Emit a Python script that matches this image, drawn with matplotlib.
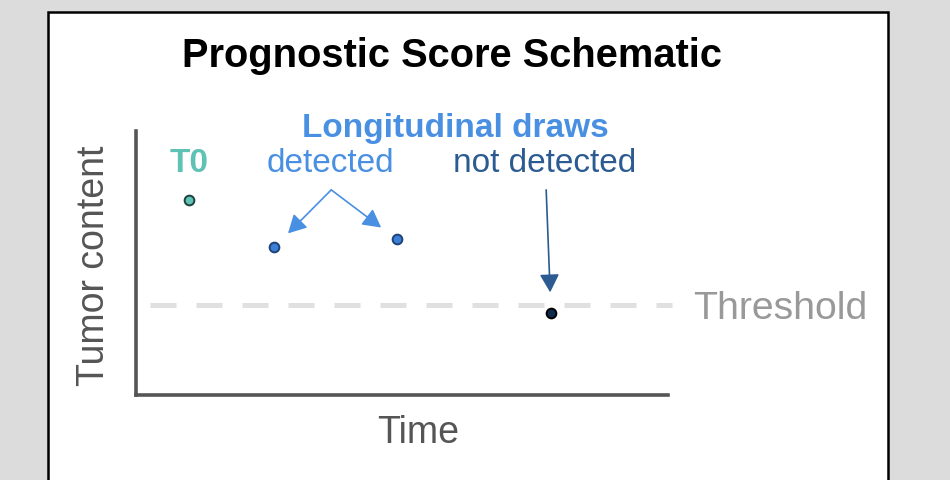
import matplotlib
matplotlib.use('Agg')
import matplotlib.pyplot as plt
from matplotlib.patches import Rectangle

plt.rcParams['font.family'] = ['Liberation Sans', 'DejaVu Sans']

# ─────────────────────────────────────────────
# Data (schematic values)
# ─────────────────────────────────────────────
draw_names = ['T0', 'detected 1', 'detected 2', 'not detected']
draw_time = [1.0, 2.6, 4.9, 7.8]
tumor_content = [7.4, 5.6, 5.9, 3.1]
threshold = 3.4

TEAL = '#5ec2b4'
BLUE = '#4a90e2'
NAVY = '#2b5b91'
ARROW = '-|>,head_length=0.5,head_width=0.27'

fig = plt.figure(figsize=(9.5, 4.8), dpi=100, facecolor='#dcdcdc')

# white card with black border
fig.patches.append(Rectangle((48 / 950, -0.05), 840 / 950, 1.05 - 12 / 480,
                             transform=fig.transFigure, facecolor='white',
                             edgecolor='black', linewidth=1.8, zorder=-5))

ax = fig.add_axes([136 / 950, 85 / 480, 532 / 950, 264 / 480])
ax.set_zorder(2)
ax.set_xlim(0, 10)
ax.set_ylim(0, 10)
ax.patch.set_alpha(0)
for side in ['top', 'right']:
    ax.spines[side].set_visible(False)
for side in ['left', 'bottom']:
    ax.spines[side].set_color('#555555')
    ax.spines[side].set_linewidth(2.6)
ax.set_xticks([])
ax.set_yticks([])

# threshold line
ax.plot([0.26, 10.08], [threshold, threshold], color='#e0e0e0', lw=3.6,
        dashes=(5.2, 4), clip_on=False, zorder=1)
ax.text(10.47, threshold, 'Threshold', color='#999999', fontsize=28.3,
        va='center_baseline', ha='left')

# points
fills = [TEAL, '#3b7fd6', '#3b7fd6', '#0e2a4c']
edges = ['#20403c', '#1d4377', '#1d4377', '#000000']
for t, c, fc, ec in zip(draw_time, tumor_content, fills, edges):
    ax.plot(t, c, 'o', ms=7, mfc=fc, mec=ec, mew=1.4, zorder=3, clip_on=False)

# labels
label_y = 8.45
ax.text(draw_time[0], label_y, 'T0', color=TEAL, fontsize=24,
        fontweight='bold', ha='center', va='baseline')
ax.text(3.65, label_y, 'detected', color=BLUE, fontsize=24,
        ha='center', va='baseline')
ax.text(7.68, label_y, 'not detected', color=NAVY, fontsize=24,
        ha='center', va='baseline')
ax.text(6.0, 9.77, 'Longitudinal draws', color=BLUE, fontsize=24,
        fontweight='bold', ha='center', va='baseline')

# arrows from labels to points
for i in [1, 2]:
    ax.annotate('', xy=(draw_time[i], tumor_content[i]), xytext=(3.67, 7.77),
                arrowprops=dict(arrowstyle=ARROW, color=BLUE, lw=1.2,
                                mutation_scale=22, shrinkA=0, shrinkB=14))
ax.annotate('', xy=(draw_time[3], tumor_content[3]), xytext=(7.71, 7.77),
            arrowprops=dict(arrowstyle=ARROW, color=NAVY, lw=1.2,
                            mutation_scale=22, shrinkA=0, shrinkB=15))

# titles
fig.text(452 / 950, (480 - 67) / 480, 'Prognostic Score Schematic',
         fontsize=28.7, fontweight='bold', ha='center', va='baseline')
fig.text(418 / 950, (480 - 443) / 480, 'Time', color='#555555', fontsize=27,
         ha='center', va='baseline')
fig.text(94 / 950, (480 - 266) / 480, 'Tumor content', color='#555555',
         fontsize=27, rotation=90, ha='center', va='center')

fig.savefig('out.png', dpi=100, facecolor=fig.get_facecolor())
